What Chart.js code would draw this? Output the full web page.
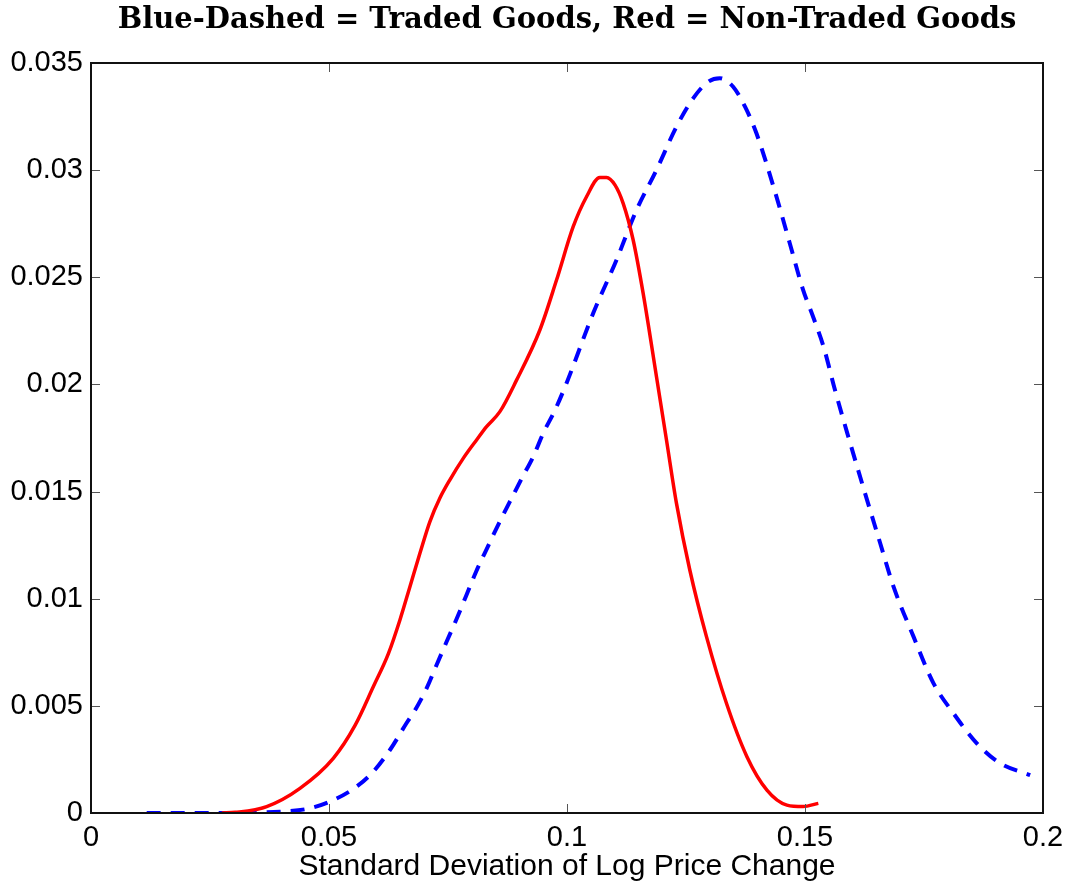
<!DOCTYPE html>
<html>
<head>
<meta charset="utf-8">
<script src="https://cdn.jsdelivr.net/npm/chart.js@4.4.1/dist/chart.umd.min.js"></script>
<style>
  html, body { margin: 0; padding: 0; background: #fff; }
  #wrap { width: 1070px; height: 888px; position: relative; }
</style>
</head>
<body>
<div id="wrap"><canvas id="c" width="1070" height="888"></canvas></div>
<script>
// ---- Data ----
const titleText = 'Blue-Dashed = Traded Goods, Red = Non-Traded Goods';
const xAxisTitle = 'Standard Deviation of Log Price Change';

const redX = [0.0275, 0.0303, 0.0369, 0.0439, 0.0509, 0.0555, 0.0593, 0.0625, 0.0649, 0.0670,
              0.0691, 0.0712, 0.0733, 0.0754, 0.0782, 0.0810, 0.0831, 0.0859, 0.0894, 0.0943,
              0.0978, 0.1013, 0.1041, 0.1069, 0.1083, 0.1101, 0.1118, 0.1139, 0.1160, 0.1188,
              0.1209, 0.1230, 0.1258, 0.1293, 0.1335, 0.1378, 0.1420, 0.1462, 0.1496, 0.1528];
const redY = [0, 0.00003, 0.0003, 0.00115, 0.00255, 0.0041, 0.00589, 0.00745, 0.00901, 0.01056,
              0.01212, 0.01360, 0.01470, 0.01555, 0.01655, 0.01741, 0.01803, 0.01873, 0.0202, 0.02254,
              0.02487, 0.02736, 0.02876, 0.02966, 0.02966, 0.0293, 0.02845, 0.02674, 0.02425, 0.02036,
              0.01741, 0.01445, 0.01134, 0.00823, 0.00512, 0.00263, 0.00107, 0.00037, 0.0003, 0.00045];

const blueX = [0.0117, 0.0250, 0.0340, 0.0397, 0.0460, 0.0509, 0.0558, 0.0593, 0.0628, 0.0663,
               0.0681, 0.0705, 0.0726, 0.0747, 0.0768, 0.0788, 0.0809, 0.0833, 0.0857, 0.0880,
               0.0905, 0.0929, 0.0950, 0.0975, 0.0999, 0.1055, 0.1104, 0.1146, 0.1188, 0.1230,
               0.1265, 0.1297, 0.1321, 0.1349, 0.1374, 0.1398, 0.1437, 0.1468, 0.1496, 0.1517,
               0.1539, 0.1563, 0.1591, 0.1622, 0.1658, 0.1686, 0.1728, 0.1770, 0.1812, 0.1861,
               0.1910, 0.1973];
const blueY = [0, 0, 0.00002, 0.00006, 0.00022, 0.0006, 0.00123, 0.00193, 0.00294, 0.0042,
               0.00481, 0.00582, 0.00691, 0.00799, 0.00905, 0.01013, 0.01126, 0.0124, 0.01352, 0.01453,
               0.01562, 0.01663, 0.01772, 0.01881, 0.02006, 0.02332, 0.02581, 0.02814, 0.03001, 0.03203,
               0.03335, 0.03413, 0.03429, 0.03389, 0.03296, 0.03172, 0.02899, 0.02659, 0.02441, 0.02316,
               0.02176, 0.01974, 0.01756, 0.01523, 0.01259, 0.01056, 0.00823, 0.00605, 0.00465, 0.00325,
               0.00232, 0.00177];

const xTicks = [0, 0.05, 0.1, 0.15, 0.2];
const xTickLabels = ['0', '0.05', '0.1', '0.15', '0.2'];
const yTicks = [0, 0.005, 0.01, 0.015, 0.02, 0.025, 0.03, 0.035];
const yTickLabels = ['0', '0.005', '0.01', '0.015', '0.02', '0.025', '0.03', '0.035'];

// ---- Build ----
const redData = redX.map((x, i) => ({ x: x, y: redY[i] }));
const blueData = blueX.map((x, i) => ({ x: x, y: blueY[i] }));

const boxPlugin = {
  id: 'boxTicks',
  afterDatasetsDraw(chart) {
    const { ctx, chartArea: a, scales } = chart;
    const xs = scales.x, ys = scales.y;
    const tl = 9;
    ctx.save();
    ctx.strokeStyle = '#555';
    ctx.lineWidth = 1;
    ctx.beginPath();
    xTicks.forEach(v => {
      const px = Math.round(xs.getPixelForValue(v)) + 0.5;
      ctx.moveTo(px, a.bottom); ctx.lineTo(px, a.bottom - tl);
      ctx.moveTo(px, a.top); ctx.lineTo(px, a.top + tl);
    });
    yTicks.forEach(v => {
      const py = Math.round(ys.getPixelForValue(v)) + 0.5;
      ctx.moveTo(a.left, py); ctx.lineTo(a.left + tl, py);
      ctx.moveTo(a.right, py); ctx.lineTo(a.right - tl, py);
    });
    ctx.stroke();
    ctx.strokeStyle = '#111';
    ctx.lineWidth = 2;
    ctx.strokeRect(a.left, a.top, a.right - a.left, a.bottom - a.top);
    ctx.restore();
  }
};

new Chart(document.getElementById('c'), {
  type: 'line',
  data: {
    datasets: [
      {
        label: 'Non-Traded Goods',
        data: redData,
        borderColor: '#ff0000',
        borderWidth: 3.5,
        pointRadius: 0,
        fill: false,
        cubicInterpolationMode: 'monotone'
      },
      {
        label: 'Traded Goods',
        data: blueData,
        borderColor: '#0000ff',
        borderWidth: 4,
        borderDash: [14, 10],
        borderCapStyle: 'butt',
        pointRadius: 0,
        fill: false,
        cubicInterpolationMode: 'monotone'
      }
    ]
  },
  options: {
    responsive: false,
    animation: false,
    layout: { padding: { left: 0, right: 27, top: 0, bottom: 0 } },
    plugins: {
      legend: { display: false },
      tooltip: { enabled: false },
      title: {
        display: true,
        text: titleText,
        fullSize: false,
        color: '#000',
        font: { family: 'DejaVu Serif', weight: 'bold', size: 29 },
        padding: { top: 2.9, bottom: 25.3 }
      }
    },
    scales: {
      x: {
        type: 'linear',
        min: 0, max: 0.2,
        grid: { display: false },
        border: { display: false },
        afterBuildTicks: s => { s.ticks = xTicks.map(v => ({ value: v })); },
        afterFit: s => { s.height = 75; },
        ticks: {
          color: '#000',
          font: { family: 'Liberation Sans', size: 29 },
          padding: 0,
          maxRotation: 0,
          autoSkip: false,
          callback: (v) => xTickLabels[xTicks.indexOf(v)]
        },
        title: {
          display: true,
          text: xAxisTitle,
          color: '#000',
          font: { family: 'Liberation Sans', size: 30 },
          padding: { top: 0, bottom: 3 }
        }
      },
      y: {
        type: 'linear',
        min: 0, max: 0.035,
        grid: { display: false },
        border: { display: false },
        afterBuildTicks: s => { s.ticks = yTicks.map(v => ({ value: v })); },
        afterFit: s => { s.width = 91; },
        ticks: {
          color: '#000',
          font: { family: 'Liberation Sans', size: 29 },
          padding: 0,
          autoSkip: false,
          callback: (v) => yTickLabels[yTicks.indexOf(v)]
        }
      }
    }
  },
  plugins: [boxPlugin]
});
</script>
</body>
</html>
